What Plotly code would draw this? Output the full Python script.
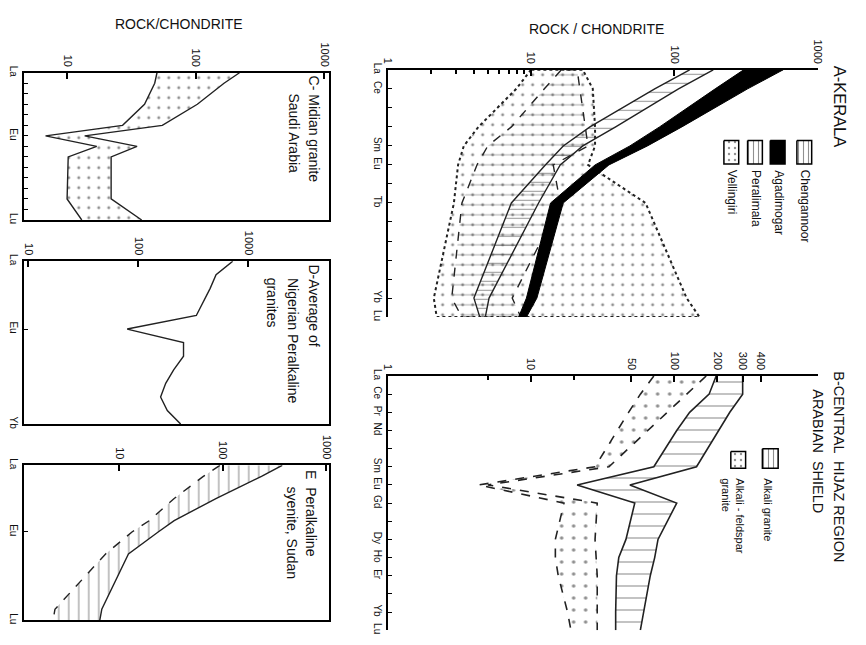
import plotly.graph_objects as go

W, H = 866, 645
FONT = "Liberation Sans, Arial, sans-serif"

# ---------------- element orders ----------------
REE15 = ["La", "Ce", "Pr", "Nd", "Pm", "Sm", "Eu", "Gd", "Tb", "Dy", "Ho", "Er", "Tm", "Yb", "Lu"]
REE14 = [e for e in REE15 if e != "Pm"]

# ---------------- Panel A : Kerala (rock/chondrite) ----------------
A_ELEMENTS = ["La", "Ce", "Nd", "Sm", "Eu", "Tb", "Yb", "Lu"]
A_CHENGANNOOR_LOW = [128, 73, 25.8, 16.8, 12.6, 7.3, 4.0, 4.4]
A_CHENGANNOOR_HIGH = [187, 107, 39, 23, 16, 11.3, 5.1, 4.8]
A_AGADIMOGAR_LOW = [305, 193, 79, 49, 28, 13.7, 9.3, 8.2]
A_AGADIMOGAR_HIGH = [575, 325, 113, 65, 35, 16.8, 11, 9.3]
A_PERALIMALA_LOW = [16.3, 12.4, 7.3, 5.0, 4.2, 3.3, 2.8, 3.3]
A_PERALIMALA_HIGH = [21, 22, 24, 25, 14.3, 16, 7.4, 8.5]
A_VELLINGIRI_LOW = [10, 7.9, 4.3, 3.4, 3.1, 2.9, 2.1, 2.2]
A_VELLINGIRI_HIGH = [23, 27, 28, 28, 25, 63, 122, 150]
A_TICK_ELEMENTS = ["La", "Ce", "Sm", "Eu", "Tb", "Yb", "Lu"]
A_VALUE_TICKS = [1, 10, 100, 1000]
A_VALUE_MINOR = [2, 3, 4, 5, 6, 7, 8, 9]

# ---------------- Panel B : Central Hijaz region ----------------
B_ELEMENTS = ["La", "Ce", "Pr", "Nd", "Sm", "Eu", "Gd", "Dy", "Ho", "Er", "Yb", "Lu"]
B_ALKALI_LOW = [196, 175, 128, 104, 72, 21, 53, 46, 41, 39.5, 39, 39]
B_ALKALI_HIGH = [300, 300, 244, 205, 143, 49, 104, 77, 73, 68, 61, 58]
B_AFSP_LOW = [72, 58, 48, 40, 28, 4.3, 17, 14.8, 14.8, 15.5, 18, 19]
B_AFSP_HIGH = [167, 122, 89, 65, 35, 5.0, 29, 28, 28.5, 29, 29, 29]
B_TICK_ELEMENTS = ["La", "Ce", "Pr", "Nd", "Sm", "Eu", "Gd", "Dy", "Ho", "Er", "Yb", "Lu"]
B_VALUE_TICKS = [1, 10, 50, 100, 200, 300, 400]
B_VALUE_MINOR = [5, 20]

# ---------------- Panel C : Midian granite ----------------
C_ELEMENTS = ["La", "Ce", "Nd", "Sm", "Eu", "Gd", "Tb", "Tm", "Lu"]
C_LOW = [50, 48, 40, 27, 6.8, 17, 10.2, 10, 13]
C_HIGH = [219, 166, 103, 55, 13.7, 35, 22, 22, 38]
C_TICK_ELEMENTS = ["La", "Eu", "Lu"]

# ---------------- Panel D : Nigerian peralkaline granites ----------------
D_ELEMENTS = ["La", "Ce", "Pr", "Nd", "Sm", "Eu", "Gd", "Tb", "Dy", "Ho", "Er", "Tm", "Yb"]
D_AVERAGE = [721, 508, 449, 389, 336, 79, 257, 257, 209, 177, 159, 183, 242]
D_TICK_ELEMENTS = ["La", "Eu", "Yb"]

# ---------------- Panel E : Peralkaline syenite, Sudan ----------------
E_ELEMENTS = ["La", "Ce", "Nd", "Sm", "Eu", "Tb", "Yb", "Lu"]
E_LOW = [94, 65, 34, 19.5, 13.4, 7.4, 2.4, 2.3]
E_HIGH = [376, 237, 86, 34, 24, 12.3, 6.8, 6.5]
E_TICK_ELEMENTS = ["La", "Eu", "Lu"]

CDE_VALUE_TICKS = [10, 100, 1000]

# ---------------- layout geometry (pixels) ----------------
BOX = {  # left, right, top, bottom
    "A": (387, 823, 64, 316),
    "B": (387, 823, 376, 635),
    "C": (18, 328, 67, 217),
    "D": (18, 328, 259, 425),
    "E": (18, 328, 467, 625),
}
LOGRANGE = {"A": [0, 3], "B": [0, 3], "C": [0.663, 3.04], "D": [0.957, 3.737], "E": [0.079, 3.031]}
ORDER = {"A": REE14, "B": REE15, "C": REE15, "D": REE14[:13], "E": REE15}
AX = {"A": ("x", "y", ""), "B": ("x2", "y2", "2"), "C": ("x3", "y3", "3"),
      "D": ("x4", "y4", "4"), "E": ("x5", "y5", "5")}


def px(x):
    return x / W


def py(y):
    return 1 - y / H


fig = go.Figure()


def pattern(shape, size, solidity, color="#222"):
    return dict(shape=shape, size=size, solidity=solidity, fgcolor=color,
                fillmode="overlay")


def band(panel, elements, low, high, fillpat=None, black=False,
         outline_dash=None, low_dash="solid", high_dash="solid", lw=1.2):
    xa, ya, _ = AX[panel]
    order = ORDER[panel]
    idx = [order.index(e) for e in elements]
    xs = list(low) + list(high)[::-1] + [low[0]]
    ys = idx + idx[::-1] + [idx[0]]
    kw = dict(x=xs, y=ys, mode="lines", fill="toself", xaxis=xa, yaxis=ya,
              hoverinfo="skip", showlegend=False)
    if black:
        kw["fillcolor"] = "black"
        kw["line"] = dict(color="black", width=1)
    else:
        kw["fillcolor"] = "rgba(0,0,0,0)"
        kw["fillpattern"] = fillpat
        if outline_dash:
            kw["line"] = dict(color="#222", width=lw, dash=outline_dash)
        else:
            kw["line"] = dict(color="rgba(0,0,0,0)", width=0)
    fig.add_trace(go.Scatter(**kw))
    if not black and not outline_dash:
        for vals, dash in ((low, low_dash), (high, high_dash)):
            fig.add_trace(go.Scatter(x=list(vals), y=idx, mode="lines", xaxis=xa, yaxis=ya,
                                     line=dict(color="#222", width=lw, dash=dash),
                                     hoverinfo="skip", showlegend=False))


# Panel A
band("A", A_ELEMENTS, A_VELLINGIRI_LOW, A_VELLINGIRI_HIGH, pattern(".", 10, 0.07),
     outline_dash="dot", lw=2)
band("A", A_ELEMENTS, A_PERALIMALA_LOW, A_PERALIMALA_HIGH, pattern("-", 10, 0.1, "#555"),
     outline_dash="dash", lw=1.4)
band("A", A_ELEMENTS, A_CHENGANNOOR_LOW, A_CHENGANNOOR_HIGH, pattern("-", 9, 0.12, "#333"),
     lw=1.4)
band("A", A_ELEMENTS, A_AGADIMOGAR_LOW, A_AGADIMOGAR_HIGH, black=True)

# Panel B
band("B", B_ELEMENTS, B_AFSP_LOW, B_AFSP_HIGH, pattern(".", 12, 0.07),
     low_dash="dash", high_dash="dash", lw=1.6)
band("B", B_ELEMENTS, B_ALKALI_LOW, B_ALKALI_HIGH, pattern("-", 12, 0.1, "#333"), lw=1.6)

# Panel C
band("C", C_ELEMENTS, C_LOW, C_HIGH, pattern(".", 10, 0.07), lw=1.4)

# Panel D
fig.add_trace(go.Scatter(x=D_AVERAGE, y=[ORDER["D"].index(e) for e in D_ELEMENTS],
                         mode="lines", xaxis="x4", yaxis="y4",
                         line=dict(color="#222", width=1.4), hoverinfo="skip",
                         showlegend=False))

# Panel E
band("E", E_ELEMENTS, E_LOW, E_HIGH, pattern("|", 10, 0.12, "#333"),
     low_dash="dash", high_dash="solid", lw=1.4)

# ---------------- axes ----------------
layout = dict(
    width=W, height=H, margin=dict(l=0, r=0, t=0, b=0),
    paper_bgcolor="white", plot_bgcolor="rgba(0,0,0,0)",
    font=dict(family=FONT, color="#111"), showlegend=False,
)

VALUE_TICKS = {"A": A_VALUE_TICKS, "B": B_VALUE_TICKS, "C": CDE_VALUE_TICKS,
               "D": CDE_VALUE_TICKS, "E": CDE_VALUE_TICKS}
VALUE_MINOR = {"A": A_VALUE_MINOR, "B": B_VALUE_MINOR, "C": [], "D": [], "E": []}
ELEM_TICKS = {"A": A_TICK_ELEMENTS, "B": B_TICK_ELEMENTS, "C": C_TICK_ELEMENTS,
              "D": D_TICK_ELEMENTS, "E": E_TICK_ELEMENTS}

for p, (l, r, t, b) in BOX.items():
    xa, ya, suf = AX[p]
    boxed = p in ("C", "D", "E")
    order = ORDER[p]
    layout["xaxis" + suf] = dict(
        type="log", domain=[px(l), px(r)], range=LOGRANGE[p], anchor=ya, side="top",
        tickmode="array", tickvals=VALUE_TICKS[p], ticktext=[str(v) for v in VALUE_TICKS[p]],
        tickangle=90, ticks="inside", ticklen=6, tickwidth=1.5, tickcolor="black",
        tickfont=dict(size=11, family=FONT, color="#111"),
        showline=True, linewidth=2, linecolor="black", mirror=boxed,
        showgrid=False, zeroline=False, fixedrange=True,
        minor=dict(tickmode="array", tickvals=VALUE_MINOR[p], ticks="inside",
                   ticklen=4, tickcolor="black", showgrid=False),
    )
    ticks_all = p in ("A", "B", "C")
    layout["yaxis" + suf] = dict(
        domain=[py(b), py(t)], range=[len(order) - 1, 0], anchor=xa, side="left",
        tickmode="array", tickvals=[order.index(e) for e in ELEM_TICKS[p]],
        ticktext=ELEM_TICKS[p], tickangle=90, ticks="inside", ticklen=4,
        tickcolor="black", tickfont=dict(size=10, family=FONT, color="#111"),
        showline=True, linewidth=2, linecolor="black", mirror=boxed,
        showgrid=False, zeroline=False, fixedrange=True,
        minor=dict(tickmode="linear", tick0=0, dtick=1,
                   ticks="inside" if ticks_all else "", ticklen=4, tickcolor="black",
                   showgrid=False),
    )

# pixel overlay axes for legend swatches
layout["xaxis6"] = dict(domain=[0, 1], range=[0, W], anchor="y6", visible=False, fixedrange=True)
layout["yaxis6"] = dict(domain=[0, 1], range=[H, 0], anchor="x6", visible=False, fixedrange=True)

fig.update_layout(**layout)

# ---------------- legends ----------------
LEGEND_A = [
    ("Chengannoor", "|", (802, 817, 136, 160), 810),
    ("Agadimogar", "black", (775, 790, 136, 160), 783),
    ("Peralimala", "|", (752, 767, 136, 160), 760),
    ("Vellingiri", ".", (728, 743, 136, 160), 736),
]
LEGEND_B = [
    ("Alkali granite", "|", (767, 783, 450, 470), 773),
    ("Alkali - feldspar<br>granite", ".", (735, 750, 453, 470), 737),
]

annotations = []
for items, fsize, ytop in ((LEGEND_A, 12, 164), (LEGEND_B, 11, 478)):
    for label, pat, (x0, x1, y0, y1), lx in items:
        sx = [x0, x1, x1, x0, x0]
        sy = [y0, y0, y1, y1, y0]
        kw = dict(x=sx, y=sy, mode="lines", fill="toself", xaxis="x6", yaxis="y6",
                  line=dict(color="black", width=1.5), hoverinfo="skip", showlegend=False)
        if pat == "black":
            kw["fillcolor"] = "black"
        else:
            kw["fillcolor"] = "rgba(0,0,0,0)"
            kw["fillpattern"] = pattern(pat, 5 if pat == "|" else 6, 0.22 if pat == "|" else 0.12)
        fig.add_trace(go.Scatter(**kw))
        annotations.append(dict(text=label, x=px(lx), y=py(ytop), xref="paper", yref="paper",
                                xanchor="center", yanchor="top", textangle=90, showarrow=False,
                                align="left", font=dict(size=fsize, family=FONT, color="#111")))

TITLES = [  # text, x-centre px, top px, size
    ("A-KERALA", 846, 58, 16.5),
    ("B-CENTRAL  HIJAZ REGION", 845, 369, 14.5),
    ("ARABIAN  SHIELD", 824, 387, 14.5),
    ("C- Midian granite", 312, 68, 14),
    ("Saudi Arabia", 292, 86, 14),
    ("D-Average of", 312, 260, 14),
    ("Nigerian Peralkaline", 291, 274, 14),
    ("granites", 270, 274, 14),
    ("E  Peralkaline", 310, 470, 14),
    ("syenite, Sudan", 290, 487, 14),
]
for text, x, y, s in TITLES:
    annotations.append(dict(text=text, x=px(x), y=py(y), xref="paper", yref="paper",
                            xanchor="center", yanchor="top", textangle=90, showarrow=False,
                            font=dict(size=s, family=FONT, color="#111")))

for text, x, y in (("ROCK / CHONDRITE", 599, 22), ("ROCK/CHONDRITE", 175, 17)):
    annotations.append(dict(text=text, x=px(x), y=py(y), xref="paper", yref="paper",
                            xanchor="center", yanchor="middle", showarrow=False,
                            font=dict(size=14, family=FONT, color="#111")))

fig.update_layout(annotations=annotations)
fig.write_html("out.html")
